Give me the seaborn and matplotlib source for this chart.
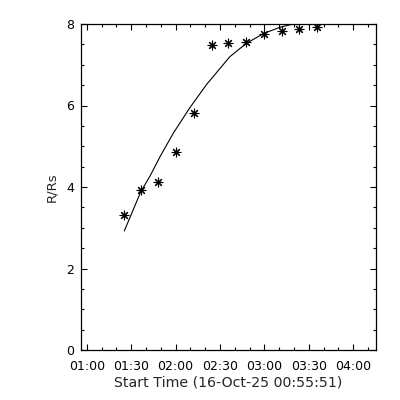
import matplotlib
matplotlib.use("Agg")
import matplotlib.pyplot as plt
import seaborn as sns
import pandas as pd

# Observed heights (minutes since 00:00 on 16-Oct-25, R/Rs)
obs_time_min = [85.3, 96.4, 107.9, 120.0, 132.4, 144.6, 155.6, 167.5, 179.7, 191.9, 203.6, 215.7]
obs_height = [3.31, 3.92, 4.12, 4.87, 5.82, 7.49, 7.53, 7.57, 7.75, 7.84, 7.87, 7.93]

# Fitted curve
fit_time_min = [85.3, 96.4, 102.7, 109.4, 118.4, 129.7, 141.0, 156.7, 168.0, 179.7, 190.5, 199.5, 207.0, 216.2]
fit_height = [2.92, 3.88, 4.27, 4.74, 5.32, 5.95, 6.52, 7.20, 7.53, 7.77, 7.92, 8.00, 8.03, 8.04]

x_tick_minor = list(range(60, 251, 10))
x_tick_major = [60, 90, 120, 150, 180, 210, 240]
x_tick_labels = ["01:00", "01:30", "02:00", "02:30", "03:00", "03:30", "04:00"]
y_ticks = [0, 2, 4, 6, 8]
y_tick_labels = ["0", "2", "4", "6", "8"]
x_title = "Start Time (16-Oct-25 00:55:51)"
y_title = "R/Rs"

sns.set_style("ticks")
plt.rcParams["font.family"] = ["DejaVu Sans"]

fig = plt.figure(figsize=(4, 4), dpi=100)
ax = fig.add_axes([80.7 / 400, 50 / 400, 295.3 / 400, 326 / 400])

df_obs = pd.DataFrame({"t": obs_time_min, "h": obs_height})
df_fit = pd.DataFrame({"t": fit_time_min, "h": fit_height})

sns.lineplot(data=df_fit, x="t", y="h", ax=ax, color="black", linewidth=0.8, sort=False)
sns.scatterplot(data=df_obs, x="t", y="h", ax=ax, color="black", marker=(8, 2, 0), s=40, linewidth=0.8)

ax.set_xlim(55.85, 255.4)
ax.set_ylim(0, 8)
ax.set_xticks(x_tick_major)
ax.set_xticklabels(x_tick_labels, fontsize=9)
ax.set_xticks(x_tick_minor, minor=True)
ax.set_yticks(y_ticks)
ax.set_yticklabels(y_tick_labels, fontsize=9)
ax.set_yticks([v / 2 for v in range(0, 17)], minor=True)

ax.tick_params(which="both", direction="in", top=True, right=True, color="black", width=0.8, labelcolor="black")
ax.tick_params(which="major", length=4.5)
ax.tick_params(which="minor", length=2.5)
ax.tick_params(axis="x", which="major", pad=7)
ax.tick_params(axis="y", which="major", pad=5)

for s in ax.spines.values():
    s.set_visible(True)
    s.set_color("black")
    s.set_linewidth(0.9)

ax.set_xlabel(x_title, fontsize=10.2, labelpad=2)
ax.set_ylabel(y_title, fontsize=9.5, labelpad=5.5)

fig.savefig("out.png", dpi=100, facecolor="white")
